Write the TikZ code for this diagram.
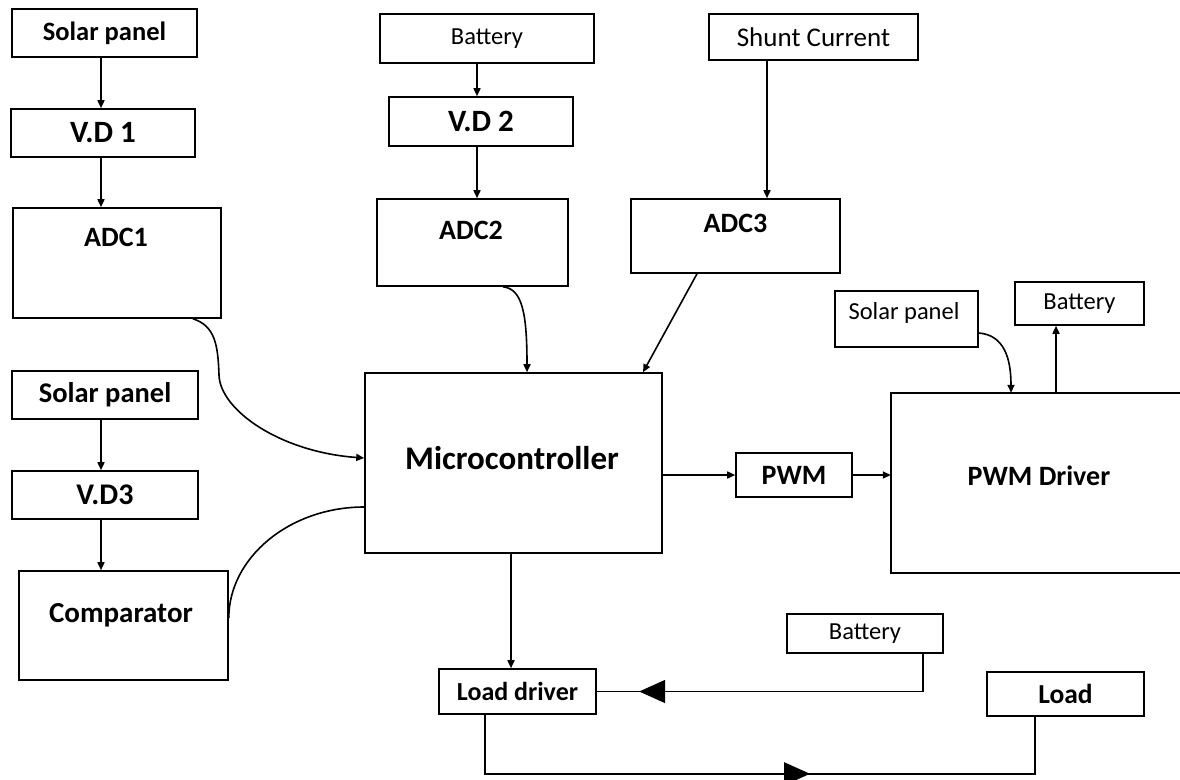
\documentclass[tikz,border=0pt]{standalone}
\usepackage{fontspec}
\setmainfont{Carlito}
\usetikzlibrary{arrows.meta,decorations.markings}
\begin{document}
\begin{tikzpicture}[x=1pt,y=-1pt,
  box/.style={draw, line width=1.6pt, inner sep=0pt},
  lbl/.style={inner sep=0pt},
  conn/.style={line width=1.6pt},
  arr/.style={conn,-{Triangle[length=8pt,width=7pt]}},
  bigtri/.style={conn, postaction={decorate}, decoration={markings, mark=at position #1 with {\arrow{Triangle[length=26pt,width=23pt]}}}},
  reg/.style={font=\fontsize{#1pt}{#1pt}\selectfont},
  bld/.style={font=\fontsize{#1pt}{#1pt}\selectfont\bfseries}]
\useasboundingbox[fill=white] (0,0) rectangle (1180,779);

% left column
\node[box, minimum width=185pt, minimum height=48pt, bld=26.5] (sp1) at (104.5,33) {Solar panel};
\node[box, minimum width=184pt, minimum height=48pt, bld=31] (vd1) at (103,133) {V.D 1};
\node[box, minimum width=208pt, minimum height=110pt] (adc1) at (117,263) {};
\node[lbl, bld=28] (adc1t) at ([xshift=-1pt,yshift=26pt]adc1.center) {ADC1};
\node[box, minimum width=186pt, minimum height=48pt, bld=28.5] (sp2) at (105,395) {Solar panel};
\node[box, minimum width=186pt, minimum height=48pt, bld=30] (vd3) at (105,495) {V.D3};
\node[box, minimum width=209pt, minimum height=109pt] (cmp) at (123.5,625.5) {};
\node[lbl, bld=29] (cmpt) at ([xshift=-2.5pt,yshift=10.5pt]cmp.center) {Comparator};

% middle column
\node[box, minimum width=214pt, minimum height=49pt, reg=24.5] (bat1) at (487,38.5) {Battery};
\node[box, minimum width=184pt, minimum height=49pt, bld=31] (vd2) at (481,121.5) {V.D 2};
\node[box, minimum width=191pt, minimum height=87pt] (adc2) at (472.5,242.5) {};
\node[lbl, bld=28] (adc2t) at ([xshift=-1.5pt,yshift=12.5pt]adc2.center) {ADC2};
\node[box, minimum width=209pt, minimum height=46pt, reg=27] (shunt) at (813.5,37) {Shunt Current};
\node[box, minimum width=209pt, minimum height=74pt] (adc3) at (735.5,236) {};
\node[lbl, bld=28] (adc3t) at ([yshift=13pt]adc3.center) {ADC3};
\node[box, minimum width=297pt, minimum height=180pt] (mc) at (513.5,463) {};
\node[lbl, bld=33] (mct) at ([xshift=-1.5pt,yshift=5pt]mc.center) {Microcontroller};
\node[box, minimum width=116pt, minimum height=44pt, bld=28] (pwm) at (794,475) {PWM};

% right side
\node[inner sep=0pt, minimum width=289pt, minimum height=180pt] (drv) at (1035.5,483) {};
\draw[conn] (drv.north east) -- (drv.north west) -- (drv.south west) -- (drv.south east);
\node[lbl, bld=28] (drvt) at ([xshift=3.5pt,yshift=7pt]drv.center) {PWM Driver};
\node[box, minimum width=143pt, minimum height=56pt] (sp3) at (906.5,319) {};
\node[lbl, reg=24.5] (sp3t) at ([xshift=-2.5pt,yshift=6pt]sp3.center) {Solar panel};
\node[box, minimum width=129pt, minimum height=43pt, reg=24.5] (bat2) at (1079.5,303.5) {Battery};
\node[box, minimum width=156pt, minimum height=39pt, reg=24.5] (bat3) at (865,633.5) {Battery};
\node[box, minimum width=157pt, minimum height=45pt, bld=26] (ld) at (517.5,691.5) {Load driver};
\node[box, minimum width=157pt, minimum height=44pt, bld=27.5] (load) at (1065.5,694) {Load};

% connectors
\draw[arr] ([xshift=-2pt]vd1.north |- sp1.south) -- ([xshift=-2pt]vd1.north);
\draw[arr] ([xshift=-2pt]vd1.south) -- ([xshift=-2pt]vd1.south |- adc1.north);
\draw[arr] ([xshift=-4pt]sp2.south) -- ([xshift=-4pt]sp2.south |- vd3.north);
\draw[arr] ([xshift=-4pt]vd3.south) -- ([xshift=-4pt]vd3.south |- cmp.north);
\draw[arr] ([xshift=-10pt]bat1.south) -- ([xshift=-10pt]bat1.south |- vd2.north);
\draw[arr] ([xshift=-4pt]vd2.south) -- ([xshift=-4pt]vd2.south |- adc2.north);
\draw[arr] ([xshift=-46.5pt]shunt.south) -- ([xshift=-46.5pt]shunt.south |- adc3.north);
\draw[arr] ([xshift=30.5pt]adc2.south) .. controls +(19,2) and +(0,-60) .. ([xshift=13.5pt]mc.north);
\draw[arr] ([xshift=-38.5pt]adc3.south) -- ([xshift=129.5pt]mc.north);
\draw[arr] ([xshift=76pt]adc1.south) .. controls +(22,7) and +(-1,-30) .. (219,375)
  .. controls (220,410) and (280,452) .. ([yshift=5pt]mc.west);
\draw[conn] ([yshift=7.5pt]cmp.east) .. controls +(0,-60) and +(-75,0) .. ([yshift=-44pt]mc.west);
\draw[arr] (mc.east |- pwm.west) -- (pwm.west);
\draw[arr] (pwm.east) -- (pwm.east -| drv.west);
\draw[arr] ([xshift=-2.5pt]mc.south) -- ([xshift=-2.5pt]mc.south |- ld.north);
\draw[arr] ([yshift=-14pt]sp3.east) .. controls +(25,2) and +(0,-35) .. ([xshift=-24.5pt]drv.north);
\draw[arr] ([xshift=20.5pt]drv.north) -- ([xshift=20.5pt]drv.north |- bat2.south);
\draw[bigtri=321.5pt] ([xshift=58pt]bat3.south) |- (ld.east);
\draw[bigtri=384pt] ([xshift=-32.5pt]ld.south) -- ++(0,59) -| ([xshift=-30.5pt]load.south);
\end{tikzpicture}
\end{document}
